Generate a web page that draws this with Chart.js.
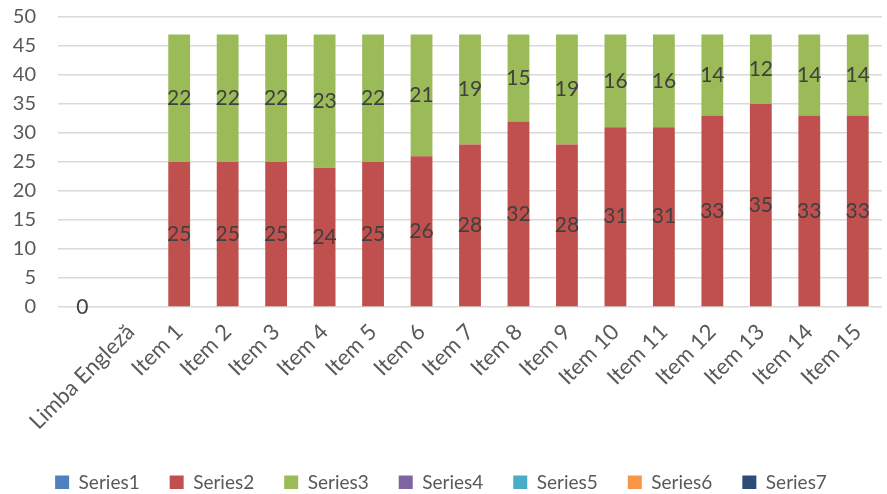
<!DOCTYPE html>
<html>
<head>
<meta charset="utf-8">
<script src="https://cdn.jsdelivr.net/npm/chart.js@4"></script>
<style>
    html, body { margin: 0; padding: 0; background: #fff; }
    #wrap { width: 887px; height: 494px; }
</style>
</head>
<body>
<div id="wrap"><canvas id="chart"></canvas></div>
<script>
const categories = ['', 'Limba Engleză', 'Item 1', 'Item 2', 'Item 3', 'Item 4', 'Item 5', 'Item 6', 'Item 7',
    'Item 8', 'Item 9', 'Item 10', 'Item 11', 'Item 12', 'Item 13', 'Item 14', 'Item 15'];

const series1 = [0, null, null, null, null, null, null, null, null, null, null, null, null, null, null, null, null];
const series2 = [null, null, 25, 25, 25, 24, 25, 26, 28, 32, 28, 31, 31, 33, 35, 33, 33];
const series3 = [null, null, 22, 22, 22, 23, 22, 21, 19, 15, 19, 16, 16, 14, 12, 14, 14];
const empty = categories.map(() => null);

const seriesNames = ['Series1', 'Series2', 'Series3', 'Series4', 'Series5', 'Series6', 'Series7'];
const seriesValues = [series1, series2, series3, empty, empty, empty, empty];
const seriesColors = ['#4F81BD', '#C0504D', '#9BBB59', '#8064A2', '#4BACC6', '#F79646', '#2C4D75'];

const font = 'Lato, "Open Sans", sans-serif';

// draws each value in the middle of its bar segment
const barValues = {
    id: 'barValues',
    afterDatasetsDraw(chart) {
        const { ctx } = chart;
        ctx.save();
        ctx.font = '21px ' + font;
        ctx.fillStyle = '#404040';
        ctx.textAlign = 'center';
        ctx.textBaseline = 'middle';
        chart.data.datasets.forEach((ds, i) => {
            const meta = chart.getDatasetMeta(i);
            meta.data.forEach((bar, j) => {
                const v = ds.data[j];
                if (v === null || v === undefined) return;
                ctx.fillText(String(v), bar.x, (bar.y + bar.base) / 2);
            });
        });
        ctx.restore();
    }
};

// keep the wide item spacing but a short legend box
const legendHeight = {
    id: 'legendHeight',
    beforeInit(chart) {
        const fit = chart.legend.fit;
        chart.legend.fit = function () {
            fit.call(this);
            this.height = 46;
        };
    }
};

new Chart(document.getElementById('chart'), {
    type: 'bar',
    plugins: [barValues, legendHeight],
    data: {
        labels: categories,
        datasets: seriesNames.map((name, i) => ({
            label: name,
            data: seriesValues[i],
            backgroundColor: seriesColors[i],
            barPercentage: 0.45,
            categoryPercentage: 1
        }))
    },
    options: {
        responsive: true,
        maintainAspectRatio: false,
        animation: false,
        layout: { padding: { top: 5, right: 5, left: 0, bottom: 5 } },
        scales: {
            x: {
                stacked: true,
                grid: { display: false },
                border: { display: false },
                afterFit(scale) {
                    scale.height = 136;
                    scale.paddingLeft = 0;
                    scale.paddingRight = 0;
                },
                ticks: {
                    minRotation: 45,
                    maxRotation: 45,
                    color: '#595959',
                    padding: 4,
                    font: { family: font, size: 22 }
                }
            },
            y: {
                stacked: true,
                min: 0,
                max: 50,
                afterFit(scale) {
                    scale.width = 58;
                    scale.paddingTop = 17;
                    scale.paddingBottom = 0;
                },
                ticks: {
                    stepSize: 5,
                    color: '#595959',
                    padding: 22,
                    font: { family: font, size: 20 }
                },
                grid: { color: '#D9D9D9', lineWidth: 1.5, drawTicks: false },
                border: { display: false }
            }
        },
        plugins: {
            tooltip: { enabled: false },
            legend: {
                position: 'bottom',
                labels: {
                    boxWidth: 14,
                    boxHeight: 14,
                    padding: 30,
                    color: '#595959',
                    font: { family: font, size: 19 }
                }
            }
        }
    }
});
</script>
</body>
</html>
